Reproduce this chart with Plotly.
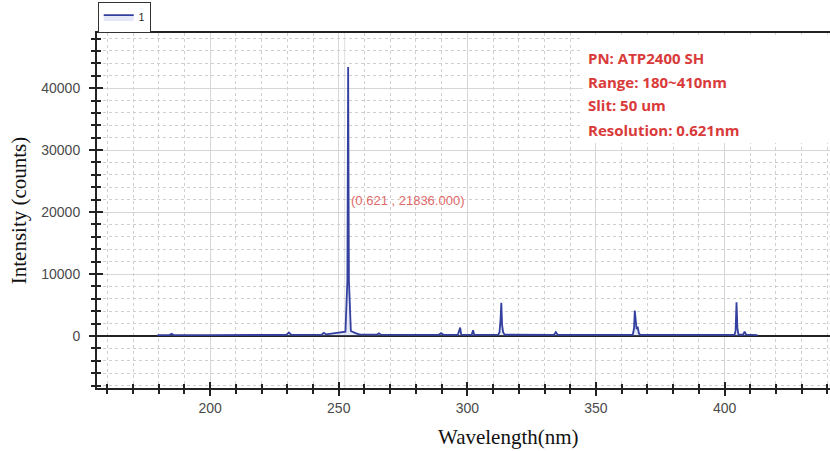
import plotly.graph_objects as go

# Spectrum points (wavelength in nm, intensity in counts)
wavelength = [179.5, 184.2, 185.0, 185.8, 200.0, 229.6, 230.6, 231.6, 243.3, 244.2, 245.1,
              249.5, 252.6, 253.35, 253.65, 253.95, 254.7, 256.5, 258.0, 264.9, 265.6, 266.3,
              288.9, 289.8, 290.7, 296.3, 296.8, 297.2, 297.6, 301.7, 302.2, 302.7,
              312.0, 312.5, 312.9, 313.2, 313.5, 313.9, 314.5, 333.7, 334.4, 335.1,
              364.3, 364.8, 365.1, 365.4, 365.8, 366.2, 366.7, 367.3,
              403.9, 404.3, 404.65, 405.0, 405.4, 407.2, 407.8, 408.4, 412.8]
intensity = [150, 150, 350, 150, 150, 160, 550, 170, 200, 500, 250,
             450, 700, 9000, 43400, 9000, 800, 450, 250, 220, 420, 220,
             180, 450, 180, 180, 700, 1350, 200, 180, 920, 180,
             200, 600, 2600, 5350, 1800, 600, 200, 180, 620, 180,
             180, 1200, 4100, 2600, 1100, 1500, 400, 180,
             180, 900, 5450, 1300, 220, 200, 700, 200, 150]

x_ticks = [200, 250, 300, 350, 400]
y_ticks = [0, 10000, 20000, 30000, 40000]
y_tick_text = ["0", "10000", "20000", "30000", "40000"]
info_lines = ["PN: ATP2400 SH", "Range: 180~410nm", "Slit: 50 um", "Resolution: 0.621nm"]
cursor_label = "(0.621 , 21836.000)"
x_title = "Wavelength(nm)"
y_title = "Intensity (counts)"

x_range = [156, 441]
y_range = [-8400, 48900]

fig = go.Figure()
fig.add_trace(go.Scatter(
    x=wavelength, y=intensity, mode="lines", name="1",
    line=dict(color="#33409f", width=1.8),
    fill="tozeroy", fillcolor="rgba(150,165,220,0.25)",
))
# invisible trace for second axes (crossing ticks)
fig.add_trace(go.Scatter(x=[x_range[0]], y=[y_range[0]], xaxis="x2", yaxis="y2",
                         mode="markers", marker=dict(opacity=0), showlegend=False,
                         hoverinfo="skip"))

tick_font = dict(family="Liberation Sans, Arial", size=14, color="#4a4a4a")
title_font = dict(family="Liberation Serif, Times New Roman", size=21, color="#111")
fig.update_layout(
    width=830, height=451,
    margin=dict(l=97, r=0, t=33, b=63, autoexpand=False),
    paper_bgcolor="white", plot_bgcolor="white",
    showlegend=True,
    legend=dict(x=0.001, y=1.045, xanchor="left", yanchor="middle",
                bgcolor="white", bordercolor="#333333", borderwidth=1,
                font=dict(family="Liberation Sans, Arial", size=10, color="#222"),
                tracegroupgap=0, itemwidth=30),
    xaxis=dict(
        range=x_range, tickvals=x_ticks, ticks="outside", ticklen=6, tickwidth=1.5,
        tickcolor="#222", showline=True, linecolor="#222", linewidth=2, mirror=True,
        showgrid=True, gridcolor="#d6d6d6", gridwidth=1, zeroline=False,
        tickfont=tick_font, automargin=False,
        minor=dict(dtick=10, ticks="outside", ticklen=4, tickcolor="#222",
                   showgrid=True, gridcolor="#cfcfcf", griddash="dot", gridwidth=1),
    ),
    yaxis=dict(
        range=y_range, tickvals=y_ticks, ticktext=y_tick_text, ticks="outside",
        ticklen=6, tickwidth=1.5,
        tickcolor="#222", showline=True, linecolor="#222", linewidth=2,
        showgrid=True, gridcolor="#d6d6d6", gridwidth=1,
        zeroline=True, zerolinecolor="#222", zerolinewidth=2,
        tickfont=tick_font, ticklabelstandoff=6, automargin=False,
        title=dict(text=y_title, font=title_font, standoff=9),
        minor=dict(dtick=2000, ticks="outside", ticklen=4, tickcolor="#222",
                   showgrid=True, gridcolor="#cfcfcf", griddash="dot", gridwidth=1),
    ),
    xaxis2=dict(overlaying="x", range=x_range, tickvals=x_ticks, showticklabels=False,
                ticks="inside", ticklen=6, tickwidth=1.5, tickcolor="#222",
                showgrid=False, zeroline=False, showline=False, side="bottom",
                minor=dict(dtick=10, ticks="inside", ticklen=4, tickcolor="#222")),
    yaxis2=dict(overlaying="y", range=y_range, tickvals=y_ticks, showticklabels=False,
                ticks="inside", ticklen=6, tickwidth=1.5, tickcolor="#222",
                showgrid=False, zeroline=False, showline=False, side="left",
                minor=dict(dtick=2000, ticks="inside", ticklen=4, tickcolor="#222")),
)

# x-axis title (the plot area continues past the cropped right edge)
fig.add_annotation(x=0.562, y=-0.138, xref="paper", yref="paper", text=x_title,
                   showarrow=False, xanchor="center", yanchor="middle", font=title_font)

# faint cursor line near the main peak
fig.add_shape(type="line", x0=252.3, x1=252.3, y0=0, y1=1, xref="x", yref="paper",
              line=dict(color="rgba(200,200,200,0.6)", width=1), layer="below")

# white panel behind the info text
fig.add_shape(type="rect", x0=0.663, x1=1.0, y0=0.69, y1=0.995, xref="paper", yref="paper",
              fillcolor="white", line=dict(width=0), layer="above")

fig.add_annotation(x=253.9, y=21836, xref="x", yref="y", text=cursor_label,
                   showarrow=False, xanchor="left", yanchor="middle",
                   font=dict(family="Liberation Sans, Arial", size=13, color="#e06a6a"))

info_y = [0.930, 0.863, 0.798, 0.727]
for line, yy in zip(info_lines, info_y):
    fig.add_annotation(x=0.667, y=yy, xref="paper", yref="paper", text=line,
                       showarrow=False, xanchor="left", yanchor="middle",
                       font=dict(family="Open Sans, Liberation Sans", size=15,
                                 color="#d93a3a", weight=700))

fig.write_html("out.html", config={"displayModeBar": False},
               post_script="document.body.style.margin='0';document.body.style.overflow='hidden';")
